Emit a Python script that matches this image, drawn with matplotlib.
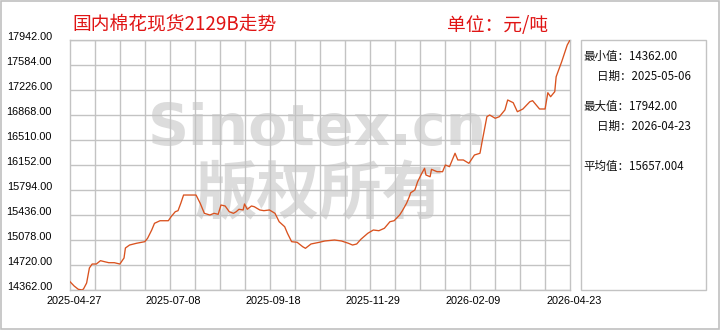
import matplotlib
matplotlib.use('Agg')
import matplotlib.pyplot as plt
import matplotlib.dates as mdates
import matplotlib.transforms as mtransforms
from matplotlib.patches import Rectangle
import numpy as np
import pandas as pd

# ---------------- data ----------------
dates = ['2025-04-27', '2025-04-30', '2025-05-03', '2025-05-06', '2025-05-07', '2025-05-09',
         '2025-05-11', '2025-05-13', '2025-05-16', '2025-05-19', '2025-05-22', '2025-05-25',
         '2025-05-29', '2025-06-02', '2025-06-05', '2025-06-06', '2025-06-09', '2025-06-14',
         '2025-06-20', '2025-06-22', '2025-06-25', '2025-06-27', '2025-07-01', '2025-07-07',
         '2025-07-09', '2025-07-12', '2025-07-14', '2025-07-16', '2025-07-18', '2025-07-22',
         '2025-07-27', '2025-07-30', '2025-08-02', '2025-08-06', '2025-08-09', '2025-08-12',
         '2025-08-14', '2025-08-17', '2025-08-20', '2025-08-23', '2025-08-25', '2025-08-27',
         '2025-08-30', '2025-08-31', '2025-09-02', '2025-09-05', '2025-09-07', '2025-09-11',
         '2025-09-14', '2025-09-18', '2025-09-22', '2025-09-25', '2025-09-29', '2025-10-01',
         '2025-10-04', '2025-10-08', '2025-10-12', '2025-10-14', '2025-10-18', '2025-10-24',
         '2025-10-28', '2025-11-04', '2025-11-09', '2025-11-14', '2025-11-17', '2025-11-20',
         '2025-11-23', '2025-11-28', '2025-12-02', '2025-12-06', '2025-12-10', '2025-12-14',
         '2025-12-17', '2025-12-21', '2025-12-23', '2025-12-26', '2025-12-28', '2025-12-29',
         '2026-01-01', '2026-01-03', '2026-01-06', '2026-01-08', '2026-01-09', '2026-01-12',
         '2026-01-13', '2026-01-17', '2026-01-21', '2026-01-23', '2026-01-26', '2026-01-30',
         '2026-02-01', '2026-02-05', '2026-02-09', '2026-02-13', '2026-02-17', '2026-02-19',
         '2026-02-22', '2026-02-24', '2026-02-28', '2026-03-03', '2026-03-07', '2026-03-09',
         '2026-03-13', '2026-03-16', '2026-03-20', '2026-03-25', '2026-03-27', '2026-04-01',
         '2026-04-05', '2026-04-07', '2026-04-09', '2026-04-12', '2026-04-13', '2026-04-17',
         '2026-04-21', '2026-04-23']
prices = [14481, 14419, 14372, 14362, 14386, 14462,
          14677, 14734, 14734, 14782, 14767, 14753,
          14753, 14734, 14820, 14963, 15006, 15031,
          15054, 15102, 15221, 15317, 15354, 15354,
          15412, 15483, 15498, 15604, 15722, 15722,
          15722, 15604, 15460, 15436, 15460, 15446,
          15579, 15565, 15483, 15460, 15483, 15518,
          15508, 15594, 15518, 15565, 15555, 15508,
          15498, 15508, 15460, 15340, 15268, 15174,
          15054, 15045, 14982, 14959, 15021, 15045,
          15064, 15078, 15064, 15031, 15006, 15021,
          15088, 15174, 15221, 15211, 15246, 15340,
          15354, 15436, 15498, 15604, 15698, 15755,
          15794, 15913, 16033, 16105, 16009, 15984,
          16090, 16056, 16056, 16152, 16128, 16320,
          16224, 16224, 16176, 16295, 16320, 16534,
          16844, 16868, 16821, 16844, 16940, 17083,
          17044, 16915, 16954, 17058, 17073, 16954,
          16954, 17187, 17130, 17202, 17416, 17631,
          17870, 17942]
x_tick_labels = ['2025-04-27', '2025-07-08', '2025-09-18', '2025-11-29', '2026-02-09', '2026-04-23']
y_low, y_high = 14362.0, 17942.0
title_text = '国内棉花现货2129B走势'
unit_text = '单位：元/吨'
min_value, min_date = '14362.00', '2025-05-06'
max_value, max_date = '17942.00', '2026-04-23'
avg_value = '15657.004'

# ---------------- style ----------------
W, H = 720, 330
CJK = ['Noto Sans CJK SC', 'DejaVu Sans']
GRID = '#c3c3c3'
LINE = '#d9521f'
RED = '#e01515'
WM = '#dcdcdc'

def fx(px):
    return px / W

def fy(py):
    return 1 - py / H

fig = plt.figure(figsize=(7.2, 3.3), dpi=100)
fig.patch.set_facecolor('white')
ax = fig.add_axes([fx(70), fy(290), 500 / W, 250 / H])
ax.patch.set_visible(False)

x = pd.to_datetime(dates)
x0 = pd.Timestamp(x_tick_labels[0])
x1 = pd.Timestamp(x_tick_labels[-1])
ax.plot(x, prices, color=LINE, lw=0.95, zorder=3)

ax.set_xlim(x0, x1)
ax.set_ylim(y_low, y_high)

# y ticks
yt = np.linspace(y_low, y_high, 11)
ax.set_yticks(yt)
ax.set_yticklabels([f'{v:.2f}' for v in yt], fontfamily='Liberation Sans', fontsize=7.8)
# x ticks
ax.set_xticks(pd.to_datetime(x_tick_labels))
ax.set_xticklabels(x_tick_labels, fontfamily='Liberation Sans', fontsize=7.8)
# minor x grid: 20 columns
ax.set_xticks(mdates.date2num(pd.date_range(x0, x1, periods=21)), minor=True)
ax.tick_params(which='both', length=0)
ax.tick_params(axis='y', pad=13)
ax.tick_params(axis='x', pad=4.5)

ax.grid(False)
ax.grid(True, axis='y', which='major', color=GRID, lw=1.0, zorder=1)
ax.grid(True, axis='x', which='minor', color=GRID, lw=1.0, zorder=1)
ax.set_axisbelow(True)
for s in ax.spines.values():
    s.set_color(GRID)
    s.set_linewidth(1.0)

off_y = mtransforms.ScaledTranslation(0, 0.04, fig.dpi_scale_trans)
for lbl in ax.get_yticklabels():
    lbl.set_transform(lbl.get_transform() + off_y)
off_x = mtransforms.ScaledTranslation(0.04, 0, fig.dpi_scale_trans)
for lbl in ax.get_xticklabels():
    lbl.set_transform(lbl.get_transform() + off_x)

# watermark
ax.text(fx(318), fy(129), 'Sinotex.cn', transform=fig.transFigure, ha='center', va='center',
        fontsize=41, fontweight='bold', color=WM, fontfamily='DejaVu Sans', zorder=0.2,
        clip_on=False)
ax.text(fx(320), fy(195), '版权所有', transform=fig.transFigure, ha='center', va='center',
        fontsize=45, fontweight='bold', color=WM, fontfamily=CJK, zorder=0.2, clip_on=False)

# title and unit
fig.text(fx(72), fy(24), title_text, ha='left', va='center', fontsize=13.5,
         color=RED, fontfamily=CJK)
fig.text(fx(447), fy(25), unit_text, ha='left', va='center', fontsize=13.5,
         color=RED, fontfamily=CJK)

# side panel
fig.add_artist(Rectangle((fx(581), fy(290)), 125 / W, 250 / H, transform=fig.transFigure,
                         fill=False, ec=GRID, lw=1.0))
side = [(583, 56, f'最小值：{min_value}'),
        (597, 76, f'日期：{min_date}'),
        (583, 106, f'最大值：{max_value}'),
        (597, 126, f'日期：{max_date}'),
        (583, 166, f'平均值：{avg_value}')]
for px, py, t in side:
    fig.text(fx(px), fy(py), t, ha='left', va='center', fontsize=8.3, color='#111111',
             fontfamily=CJK)

# outer frame
fig.add_artist(Rectangle((fx(1), fy(329)), 718 / W, 328 / H, transform=fig.transFigure,
                         fill=False, ec='#c0c0c0', lw=1.2))

fig.savefig('out.png', dpi=100)
